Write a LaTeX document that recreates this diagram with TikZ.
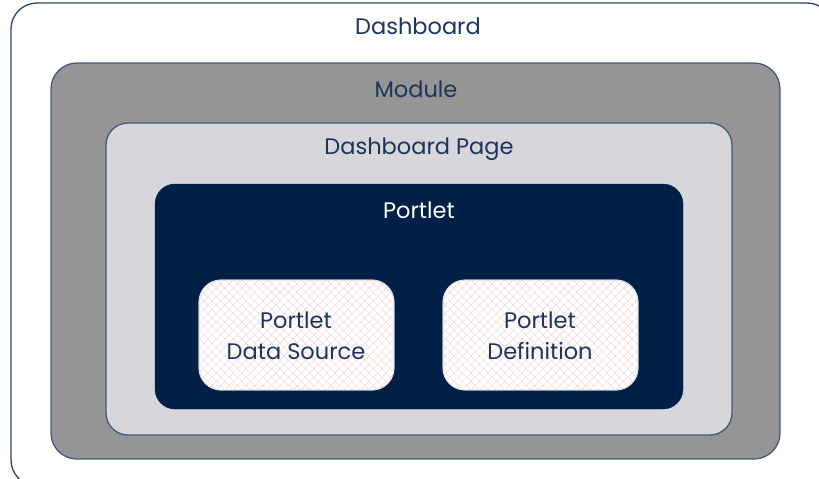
\documentclass[tikz,border=0pt]{standalone}
\usepackage{fontspec}
\setmainfont{Poppins}
\usetikzlibrary{patterns.meta}
\definecolor{edge}{HTML}{42597C}
\definecolor{outeredge}{HTML}{2A4468}
\definecolor{modfill}{HTML}{959595}
\definecolor{pagefill}{HTML}{D6D6DB}
\definecolor{navy}{HTML}{002048}
\definecolor{txt}{HTML}{1B355E}
\definecolor{hatch}{HTML}{F6D6D6}
\tikzset{
  layer/.style={draw=edge, line width=1.3pt},
  lbl/.style={text=txt, font=\fontsize{22.5}{26}\selectfont, inner sep=0pt, anchor=center},
  innerbox/.style={draw=black!15, line width=0.8pt, rounded corners=22pt,
    fill=white},
  hatchbox/.style={rounded corners=22pt,
    pattern={Lines[angle=45,distance=6pt,line width=0.5pt]}, pattern color=hatch},
  hatchbox2/.style={rounded corners=22pt,
    pattern={Lines[angle=-45,distance=6pt,line width=0.5pt]}, pattern color=hatch},
}
\begin{document}
\begin{tikzpicture}[x=1pt,y=-1pt]
\useasboundingbox (0,0) rectangle (819,479);
\begin{scope}
\clip (0,0) rectangle (819,479);
\draw[draw=outeredge, line width=1.3pt, fill=white, rounded corners=26pt] (11,3) rectangle (833,486);
\end{scope}
\draw[layer, fill=modfill, rounded corners=26pt] (51,63) rectangle (780,459);
\draw[layer, fill=pagefill, rounded corners=22pt] (106,123) rectangle (732,435);
\draw[draw=navy, fill=navy, rounded corners=20pt] (155,184) rectangle (683,409);
\foreach \xa/\xb in {199/394, 443/638}{
  \fill[innerbox] (\xa,280) rectangle (\xb,390);
  \fill[hatchbox] (\xa,280) rectangle (\xb,390);
  \fill[hatchbox2] (\xa,280) rectangle (\xb,390);
  \draw[draw=black!12, line width=0.8pt, rounded corners=22pt] (\xa,280) rectangle (\xb,390);
}
\node[lbl] (dash) at (418,26) {Dashboard};
\node[lbl] (mod) at (416,89) {Module};
\node[lbl] (page) at (419,149) {Dashboard Page};
\node[lbl, text=white] (port) at (419,210) {Portlet};
\node[lbl, align=center, font=\fontsize{22.5}{31}\selectfont] (pds) at (296,336) {Portlet\\Data Source};
\node[lbl, align=center, font=\fontsize{22.5}{31}\selectfont] (pdef) at (540,336) {Portlet\\Definition};
\end{tikzpicture}
\end{document}
